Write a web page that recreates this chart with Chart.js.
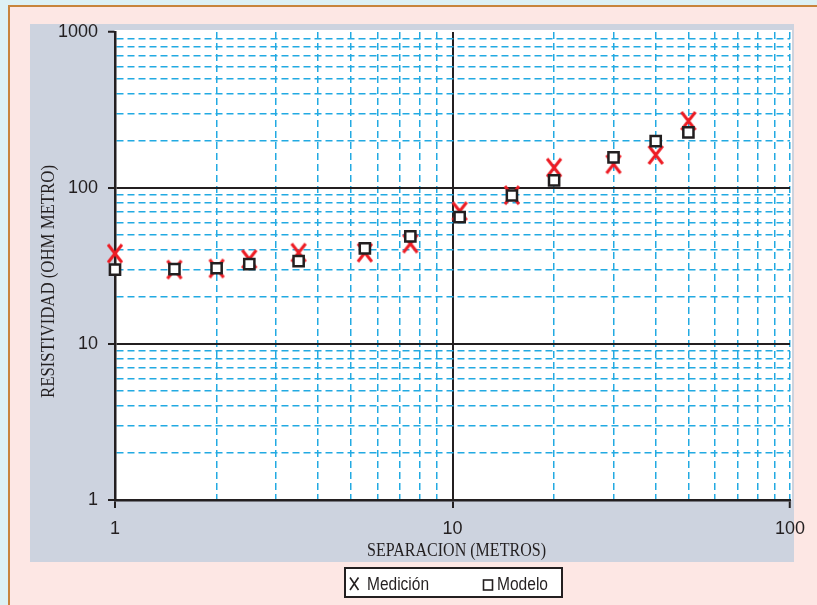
<!DOCTYPE html>
<html><head><meta charset="utf-8">
<script src="https://cdn.jsdelivr.net/npm/chart.js@4.4.1/dist/chart.umd.min.js"></script>
<style>html,body{margin:0;padding:0;background:#ddf1f4;}#wrap{width:817px;height:605px;}</style>
</head><body><div id="wrap"><canvas id="c" width="817" height="605"></canvas></div>
<script>
// ---- data ----
const separacion = [1, 1.5, 2, 2.5, 3.5, 5.5, 7.5, 10.5, 15, 20, 30, 40, 50];
const medicion   = [38, 30, 30.5, 35, 38.5, 38.5, 44, 71, 90, 135, 142, 163, 269];
const modelo     = [30, 30.2, 30.6, 32.5, 34, 41, 49, 65, 89.5, 112, 157, 200, 227];
const xTickValues = [1,2,3,4,5,6,7,8,9,10,20,30,40,50,60,70,80,90,100];
const yTickValues = [1,2,3,4,5,6,7,8,9,10,20,30,40,50,60,70,80,90,100,200,300,400,500,600,700,800,900,1000];
const xTickLabels = [1, 10, 100];
const yTickLabels = [1, 10, 100, 1000];
const xTitle = 'SEPARACION (METROS)';
const yTitle = 'RESISTIVIDAD (OHM METRO)';
const seriesNames = ['Medición', 'Modelo'];

const BLACK = '#231f20', BLUE = '#22aae2', RED = '#ed1c24', NONE = 'rgba(0,0,0,0)';

function isDec(v){ const l = Math.log10(v); return Math.abs(l - Math.round(l)) < 1e-9; }

// red X marker image
const xImg = document.createElement('canvas');
xImg.width = 20; xImg.height = 24;
(function(){ const g = xImg.getContext('2d'); g.strokeStyle = RED; g.lineWidth = 3;
  g.beginPath(); g.moveTo(3,3); g.lineTo(17,21); g.moveTo(17,3); g.lineTo(3,21); g.stroke(); })();

function makeScale(minV, maxV, ticksArr, labelsArr, hideMax, isX){
  const val = c => (c && c.tick) ? c.tick.value : undefined;
  return {
    type: 'logarithmic', min: minV, max: maxV,
    afterBuildTicks: s => { s.ticks = ticksArr.map(v => ({value: v})); },
    afterFit: s => { if (isX) s.height = 105; else s.width = 115; },
    ticks: {
      autoSkip: false, maxRotation: 0, color: BLACK,
      padding: 10,
      font: {family: 'Liberation Sans, Arial, sans-serif', size: 18},
      callback: v => labelsArr.includes(v) ? String(v) : ''
    },
    grid: {
      color: c => { const v = val(c); if (v === undefined || v === minV) return NONE;
        if (v === maxV) return hideMax ? NONE : BLUE; return isDec(v) ? BLACK : BLUE; },
      lineWidth: c => { const v = val(c); return (v !== undefined && isDec(v) && v !== maxV) ? 2 : 1.5; },
      tickColor: c => { const v = val(c); return (v !== undefined && isDec(v)) ? BLACK : NONE; },
      tickLength: isX ? 8 : 7, tickWidth: 2, tickBorderDash: [],
      drawTicks: true, drawOnChartArea: true
    },
    border: {
      display: true, color: BLACK, width: 2.5,
      dash: c => { const v = val(c); if (v === undefined) return [];
        return (isDec(v) && v !== maxV) ? [] : [7,4]; }
    }
  };
}

const bgPlugin = {
  id: 'bg',
  beforeDraw(chart){
    const ctx = chart.ctx, a = chart.chartArea;
    ctx.save();
    ctx.fillStyle = '#ddf1f4'; ctx.fillRect(0,0,817,605);
    ctx.fillStyle = '#c8843c'; ctx.fillRect(8,5,809,600);
    ctx.fillStyle = '#fde7e4'; ctx.fillRect(10,7,807,598);
    ctx.fillStyle = '#cdd3df'; ctx.fillRect(30,24,764,538);
    ctx.fillStyle = '#ffffff'; ctx.fillRect(a.left, a.top - 2, a.right - a.left + 2, a.bottom - a.top + 2);
    ctx.restore();
  },
  afterDraw(chart){
    const ctx = chart.ctx;
    function txt(t, x, y, font, targetW, rot, align){
      ctx.save(); ctx.font = font; const w = ctx.measureText(t).width;
      ctx.translate(x, y); if (rot) ctx.rotate(-Math.PI/2); ctx.scale(targetW / w, 1);
      ctx.textAlign = align || 'center'; ctx.textBaseline = 'alphabetic'; ctx.fillStyle = BLACK;
      ctx.fillText(t, 0, 0); ctx.restore();
    }
    txt(xTitle, 456.5, 556, '18.5px "Liberation Serif", serif', 179);
    txt(yTitle, 54, 281.5, '18.5px "Liberation Serif", serif', 233, true);
    // legend
    ctx.save();
    ctx.fillStyle = '#fff'; ctx.fillRect(344,567,219,31);
    ctx.strokeStyle = BLACK; ctx.lineWidth = 2; ctx.strokeRect(345,568,217,29);
    ctx.lineWidth = 1.6; ctx.beginPath();
    ctx.moveTo(350,577.5); ctx.lineTo(358.5,590); ctx.moveTo(358.5,577.5); ctx.lineTo(350,590); ctx.stroke();
    ctx.lineWidth = 1.6; ctx.strokeRect(483.5,580,9,10);
    ctx.restore();
    txt(seriesNames[0], 367, 590, '17.5px "Liberation Sans", sans-serif', 62, false, 'left');
    txt(seriesNames[1], 497, 590, '17.5px "Liberation Sans", sans-serif', 51, false, 'left');
  }
};

new Chart(document.getElementById('c'), {
  type: 'scatter',
  data: { datasets: [
    { label: seriesNames[0], data: separacion.map((x,i) => ({x, y: medicion[i]})),
      pointStyle: xImg, pointRadius: 10, borderColor: RED, backgroundColor: RED, order: 2, clip: false },
    { label: seriesNames[1], data: separacion.map((x,i) => ({x, y: modelo[i]})),
      pointStyle: 'rect', pointRadius: 7.2, backgroundColor: '#ffffff', borderColor: BLACK,
      borderWidth: 2.5, order: 1, clip: false }
  ]},
  options: {
    responsive: false, animation: false, events: [],
    layout: { padding: { top: 32, right: 27, left: 0, bottom: 0 } },
    plugins: { legend: {display: false}, tooltip: {enabled: false} },
    scales: {
      x: makeScale(1, 100, xTickValues, xTickLabels, false, true),
      y: makeScale(1, 1000, yTickValues, yTickLabels, true, false)
    }
  },
  plugins: [bgPlugin]
});
</script>
</body></html>
